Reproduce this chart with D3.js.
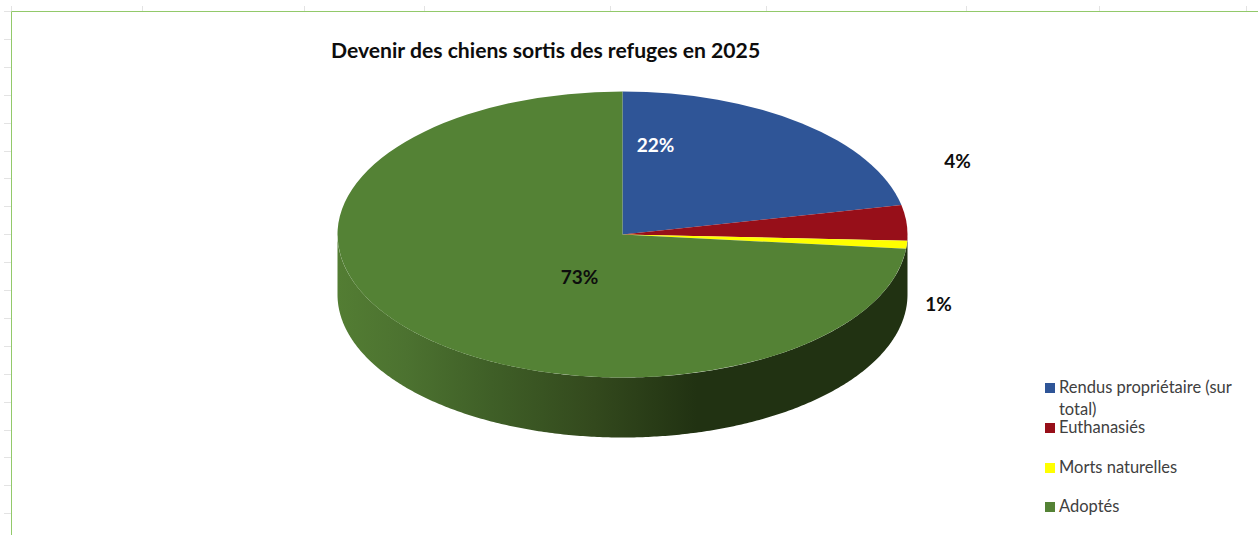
<!DOCTYPE html>
<html lang="fr">

<head>
    <meta charset="UTF-8">
    <title>Devenir des chiens sortis des refuges en 2025</title>
    <style>
        html, body { margin: 0; padding: 0; background: #fff; overflow: hidden; }
        svg { display: block; }
        text { font-family: Lato, "Open Sans", sans-serif; }
        .title { font-size: 21.15px; font-weight: bold; fill: #0d0d0d; }
        .pct { font-size: 19px; font-weight: bold; fill: #0d0d0d; }
        .legend { font-size: 16.5px; fill: #404040; }
    </style>
</head>

<body>
    <div id="chart"></div>

    <script src="https://d3js.org/d3.v7.min.js"></script>
    <script>
        const categories = ["Rendus propriétaire (sur total)", "Euthanasiés", "Morts naturelles", "Adoptés"];
        const values = [21.7, 4.0, 0.9, 73.4];
        const colors = ["#2f5597", "#970f19", "#ffff00", "#548235"];
        const legendLines = [["Rendus propriétaire (sur", "total)"], ["Euthanasiés"], ["Morts naturelles"], ["Adoptés"]];
        const columnTicks = [11, 142, 304, 424, 610, 766, 966, 1099, 1246];

        const width = 1258;
        const height = 535;
        const cx = 622.5, cy = 234.5, rx = 285, ry = 143, depth = 60;

        const svg = d3.select("#chart").append("svg")
            .attr("width", width)
            .attr("height", height);

        // spreadsheet headers behind the chart
        svg.selectAll(".coltick").data(columnTicks).enter().append("line")
            .attr("x1", d => d + 0.5).attr("x2", d => d + 0.5)
            .attr("y1", 6).attr("y2", 11)
            .attr("stroke", "#e3e3e3");
        svg.selectAll(".rowtick").data(d3.range(11, height, 27.9)).enter().append("line")
            .attr("x1", 4).attr("x2", 11)
            .attr("y1", d => Math.round(d) + 0.5).attr("y2", d => Math.round(d) + 0.5)
            .attr("stroke", "#e3e3e3");
        svg.append("path")
            .attr("d", `M11.5,${height}V11.5H${width}`)
            .attr("fill", "none")
            .attr("stroke", "#92c96a")
            .attr("stroke-width", 1);

        svg.append("text")
            .attr("class", "title")
            .attr("x", 331).attr("y", 58)
            .text("Devenir des chiens sortis des refuges en 2025");

        const gradient = svg.append("defs").append("linearGradient")
            .attr("id", "side")
            .attr("gradientUnits", "userSpaceOnUse")
            .attr("x1", cx - rx).attr("x2", cx + rx)
            .attr("y1", 0).attr("y2", 0);
        [[0, "#537d33"], [0.12, "#4c7230"], [0.27, "#3f5f27"], [0.45, "#33491d"], [0.63, "#213212"], [1, "#213212"]]
            .forEach(s => gradient.append("stop").attr("offset", s[0]).attr("stop-color", s[1]));

        const pie = d3.pie().sort(null).value(d => d);
        const slices = pie(values);

        // side wall: front half of the ellipse, pushed down by the depth
        const wall = d3.area()
            .x(a => cx + rx * Math.sin(a))
            .y0(a => cy - ry * Math.cos(a))
            .y1(a => cy - ry * Math.cos(a) + depth);
        svg.append("path")
            .attr("d", wall(d3.range(Math.PI / 2, 3 * Math.PI / 2 + 0.005, 0.01)))
            .attr("fill", "url(#side)");

        // top face: circle arcs squashed into the ellipse
        const arc = d3.arc().innerRadius(0).outerRadius(rx);
        svg.append("g")
            .attr("transform", `translate(${cx},${cy}) scale(1,${ry / rx})`)
            .selectAll("path").data(slices).enter().append("path")
            .attr("d", arc)
            .attr("fill", (d, i) => colors[i]);

        const labels = [
            { i: 0, x: 655.5, y: 152, fill: "#fff" },
            { i: 1, x: 957.5, y: 168 },
            { i: 2, x: 938.5, y: 311 },
            { i: 3, x: 579.5, y: 284 }
        ];
        svg.selectAll(".pct").data(labels).enter().append("text")
            .attr("class", "pct")
            .attr("x", d => d.x).attr("y", d => d.y)
            .attr("text-anchor", "middle")
            .style("fill", d => d.fill || null)
            .text(d => Math.round(values[d.i]) + "%");

        const legendRows = [393, 433, 473, 512];
        const legend = svg.selectAll(".item").data(categories).enter().append("g")
            .attr("transform", (d, i) => `translate(1045,${legendRows[i]})`);
        legend.append("rect")
            .attr("y", -10).attr("width", 10).attr("height", 10)
            .attr("fill", (d, i) => colors[i]);
        legend.each(function (d, i) {
            legendLines[i].forEach((line, j) => {
                d3.select(this).append("text")
                    .attr("class", "legend")
                    .attr("x", 14).attr("y", j * 22)
                    .text(line);
            });
        });
    </script>

</body>

</html>
